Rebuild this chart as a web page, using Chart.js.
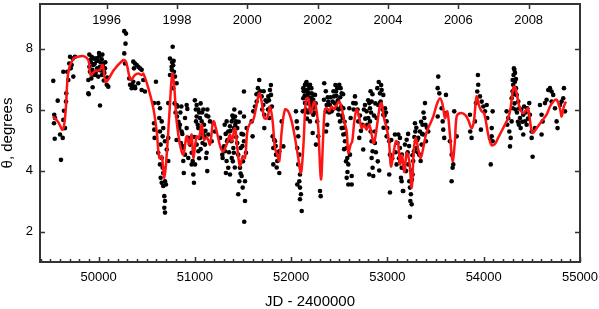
<!DOCTYPE html>
<html lang="en">
<head>
<meta charset="UTF-8">
<title>Position angle vs JD</title>
<script src="https://cdn.jsdelivr.net/npm/chart.js"></script>
<style>
  body { margin: 0; background: #fff; }
  canvas { display: block; }
</style>
</head>
<body>
<canvas id="chart" width="599" height="309"></canvas>
<script>
// axis settings
const xMin = 49392, xMax = 55000;
const yMin = 1, yMax = 9.46;
const xTickValues = [50000, 51000, 52000, 53000, 54000, 55000];
const yTickValues = [2, 4, 6, 8];
const yearJD = [50083.5, 50814.5, 51544.5, 52275.5, 53005.5, 53736.5, 54466.5];
const yearLabels = ['1996', '1998', '2000', '2002', '2004', '2006', '2008'];

// smoothed curve (red)
const fitJD = [49527,49579,49628,49657,49686,49738,49787,49842,49894,49918,
  49963,50015,50043,50077,50160,50257,50285,50334,50378,50413,
  50448,50465,50517,50569,50604,50631,50656,50683,50708,50735,
  50766,50787,50811,50846,50880,50915,50942,50967,50984,51019,
  51043,51071,51095,51129,51157,51192,51227,51268,51295,51330,
  51365,51383,51417,51441,51469,51497,51521,51545,51573,51607,
  51635,51669,51694,51721,51752,51780,51808,51832,51856,51877,
  51902,51936,51970,52006,52040,52074,52102,52126,52154,52178,
  52203,52240,52265,52282,52310,52334,52351,52375,52396,52421,
  52445,52473,52500,52525,52552,52577,52594,52618,52635,52656,
  52681,52708,52733,52756,52784,52811,52836,52860,52888,52923,
  52940,52964,52992,53016,53037,53061,53089,53113,53130,53151,
  53177,53200,53227,53252,53276,53296,53320,53345,53372,53400,
  53424,53476,53511,53546,53574,53598,53622,53649,53677,53701,
  53719,53753,53805,53839,53874,53898,53926,53954,53979,54003,
  54023,54047,54082,54117,54150,54202,54254,54279,54306,54324,
  54348,54376,54411,54445,54462,54487,54508,54550,54601,54653,
  54688,54722,54757,54792,54809,54833,54854];
const fitTheta = [5.77,5.6,5.34,5.9,7.24,7.67,7.73,7.75,7.62,7.13,
  7.26,7.3,7.46,6.91,7.3,7.62,7.57,6.97,7.13,7.18,
  7.13,7.18,6.7,6.04,5.28,4.41,4.47,3.76,4.52,5.83,
  7.18,6.7,5.61,4.85,4.52,5.12,4.85,5.18,4.41,5.12,
  5.07,5.5,5.01,5.07,4.85,5.61,5.28,4.74,4.63,4.85,
  5.18,4.96,5.39,4.74,4.14,4.47,4.41,5.28,5.55,5.66,
  6.04,6.53,6.26,5.72,5.72,6.1,5.61,4.74,4.52,4.31,
  5.28,6.0,5.94,5.61,5.07,4.41,3.92,4.74,6.32,6.37,
  5.88,6.26,5.94,5.39,3.71,5.18,6.0,6.04,5.94,6.1,
  6.0,6.15,6.26,6.04,5.61,5.28,4.58,4.85,4.96,5.61,
  6.0,5.72,5.39,5.5,5.34,5.5,5.18,4.9,5.39,6.15,
  6.21,5.72,5.39,4.96,4.14,4.52,4.96,4.85,4.2,4.5,
  3.95,4.58,4.31,3.44,4.74,5.07,4.69,4.41,4.74,5.18,
  5.39,5.77,6.15,6.37,6.15,5.72,5.94,5.18,4.31,4.96,
  5.77,5.88,5.83,5.66,5.39,5.61,6.43,6.1,5.94,5.88,
  5.61,5.18,4.83,4.87,5.07,5.39,5.72,6.04,6.7,6.75,
  6.43,6.04,5.88,6.0,6.04,5.5,5.23,5.39,5.61,5.83,
  6.1,6.26,6.32,6.04,5.77,6.1,6.26];

// individual measurements [JD-2400000, theta], grouped by season
const obs1995 = [[49530,6.94],[49576,6.29],[49540,5.83],[49548,5.72],[49537,5.55],[49545,5.04],
  [49600,5.18],[49628,5.07],[49610,4.35],[49634,5.66],[49652,5.39],[49641,5.96],[49662,6.26],
  [49665,6.53],[49634,7.24],[49675,7.24],[49696,7.51],[49704,7.73],[49732,7.67],[49721,7.46],
  [49738,7.08],[49755,7.73],[49686,6.97],[49711,7.35]];
const obs1996 = [[49904,7.8],[49929,7.73],[49953,7.67],[49981,7.59],[50008,7.75],[50033,7.65],
  [50049,7.51],[50067,7.35],[49946,7.46],[49985,7.35],[50015,7.4],[49911,7.24],[49894,6.97],
  [49939,6.73],[49898,6.5],[50015,6.13],[49963,7.13],[49997,7.08],[50035,7.13],[50052,7.24],
  [50085,6.81],[50101,6.75],[49925,7.02],[49920,7.55],[49960,7.5],[49990,7.62],[50020,7.55],
  [50000,7.3],[49970,7.2],[50045,7.4],[50060,7.2],[49935,7.3],[49975,7.68],[50025,7.28],
  [49915,7.62],[50070,7.55],[50090,7.05],[50055,6.95],[49945,7.15],[49905,7.4],[50040,7.8],
  [50005,7.85],[49894,6.53]];
const obs1997 = [[50267,8.57],[50285,8.49],[50280,8.16],[50267,7.84],[50275,7.51],[50327,6.81],
  [50344,6.7],[50361,6.91],[50319,7.02],[50378,6.75],[50361,7.57],[50378,7.51],[50396,7.46],
  [50413,7.4],[50430,7.35],[50448,7.3],[50368,7.35],[50345,6.81],[50380,6.7],[50413,6.86],
  [50448,6.64],[50482,6.59],[50465,6.97],[50596,6.91]];
const obs1998 = [[50576,6.21],[50620,6.21],[50638,6.04],[50576,5.55],[50579,5.34],[50582,5.07],
  [50631,5.72],[50656,5.61],[50672,5.39],[50638,5.28],[50666,5.12],[50690,4.96],[50645,4.85],
  [50620,4.58],[50656,4.41],[50638,4.2],[50666,4.09],[50672,3.92],[50645,3.76],[50656,3.6],
  [50672,3.49],[50690,3.65],[50700,3.54],[50683,3.16],[50690,3.0],[50683,2.78],[50690,2.62],
  [50724,4.31],[50708,4.69],[50724,5.07],[50724,6.21],[50742,7.67],[50759,7.4],[50770,8.06],
  [50783,7.24],[50794,7.08],[50811,6.86],[50776,6.7],[50742,7.13],[50811,6.15],[50815,5.77],
  [50838,5.39],[50863,5.28],[50873,4.74],[50880,4.31],[50885,3.92],[50878,4.79],[50898,4.52],
  [50932,4.41],[50765,7.55],[50775,7.45],[50760,7.3],[50780,7.6],[50790,6.2],[50800,5.9],
  [50820,6.1],[50830,5.6],[50850,5.9],[50860,6.1],[50845,5.5],[50870,5.2],[50855,4.9],
  [50810,5.0]];
const obs1999 = [[50915,6.15],[50922,6.02],[50898,5.72],[50915,5.39],[50932,5.07],[50950,4.85],
  [50967,4.58],[50978,4.31],[50984,3.87],[50991,3.6],[50967,4.2],[51002,4.2],[51019,6.15],
  [51036,6.0],[51019,5.77],[51053,5.72],[51012,5.61],[51036,5.39],[51071,5.61],[51088,6.0],
  [51071,5.28],[51053,5.07],[51019,4.85],[51036,4.63],[51088,5.18],[51105,4.85],[51123,4.58],
  [51129,3.98],[51116,4.41],[51140,5.77],[51157,5.61],[51140,5.18],[51175,4.96],[51192,5.55],
  [51209,5.28],[51000,6.3],[51010,6.0],[51030,5.5],[51045,5.9],[51060,6.2],[51075,5.9],
  [51095,5.5],[51110,5.3],[51080,4.9],[51100,5.1],[51120,5.8],[51130,6.0],[51060,4.7],
  [51045,4.4],[50995,5.1]];
const obs2000 = [[51295,4.74],[51289,4.41],[51261,5.07],[51285,4.52],[51313,4.63],[51330,4.31],
  [51347,4.09],[51323,3.92],[51365,3.87],[51383,4.41],[51330,5.61],[51347,5.28],[51365,5.45],
  [51383,5.61],[51400,5.72],[51417,5.77],[51427,5.61],[51407,5.39],[51380,4.96],[51400,4.74],
  [51335,4.96],[51303,4.79],[51405,4.58],[51441,5.39],[51510,6.59],[51510,5.77],[51503,5.18],
  [51476,4.74],[51451,4.52],[51469,4.09],[51486,3.82],[51462,3.65],[51497,3.44],[51521,3.65],
  [51451,3.22],[51521,3.0],[51513,2.32],[51510,4.96],[51531,4.58],[51538,5.39],
  [51310,5.5],[51320,5.2],[51340,5.0],[51355,4.6],[51370,5.3],[51390,5.8],[51410,6.0],
  [51420,5.5],[51430,5.1],[51395,4.3],[51415,4.1],[51440,4.9],[51455,5.6],[51470,5.9],
  [51485,5.2],[51495,4.8],[51500,4.3],[51475,3.9]];
const obs2001 = [[51600,5.12],[51590,5.61],[51607,5.94],[51625,6.1],[51642,6.26],[51669,6.97],
  [51659,6.53],[51694,6.43],[51711,6.15],[51721,5.83],[51721,5.39],[51746,6.26],[51763,6.43],
  [51780,6.64],[51791,6.48],[51780,6.04],[51773,5.72],[51808,5.12],[51815,4.74],[51832,4.96],
  [51843,4.52],[51856,4.31],[51815,4.2],[51877,4.63],[51902,5.61],[51877,3.92],[51919,4.79],
  [51640,6.5],[51655,6.7],[51680,6.6],[51700,6.0],[51715,6.6],[51735,6.3],[51760,6.0],
  [51770,6.3],[51790,6.8],[51800,6.1],[51825,5.0],[51840,4.8],[51850,4.1],[51860,4.6]];
const obs2002 = [[52050,5.94],[52058,5.61],[52064,5.39],[52074,5.12],[52064,4.74],[52085,4.52],
  [52074,4.2],[52092,3.87],[52085,3.65],[52064,3.54],[52092,3.44],[52102,3.22],[52092,3.06],
  [52110,2.67],[52126,6.7],[52144,6.81],[52154,6.86],[52168,6.81],[52144,6.59],[52161,6.43],
  [52178,6.53],[52188,6.7],[52144,6.21],[52120,5.94],[52196,6.26],[52213,6.37],[52230,6.48],
  [52224,6.04],[52126,6.37],[52196,6.81],[52213,6.53],[52230,6.32],[52248,6.48],[52206,6.15],
  [52230,5.83],[52196,5.61],[52224,5.23],[52258,4.85],[52271,5.61],[52282,5.12],[52300,3.33],
  [52307,3.16],[52130,6.6],[52140,6.45],[52150,6.65],[52160,6.9],[52170,6.6],[52180,6.2],
  [52185,6.4],[52200,6.0],[52210,6.7],[52220,6.2],[52235,6.1],[52245,5.9],[52255,6.2],
  [52175,5.9],[52150,6.0],[52165,5.7]];
const obs2003 = [[52344,6.86],[52341,6.32],[52369,6.15],[52362,5.94],[52375,5.5],[52362,5.28],
  [52386,6.26],[52403,6.15],[52421,5.94],[52431,6.26],[52445,6.43],[52466,6.59],[52479,6.7],
  [52500,6.81],[52514,6.7],[52525,6.53],[52473,6.04],[52490,5.83],[52507,5.61],[52525,5.39],
  [52542,6.04],[52535,5.72],[52542,5.18],[52559,4.96],[52577,4.74],[52583,4.41],[52594,4.2],
  [52577,3.76],[52594,3.54],[52629,3.82],[52629,3.54],[52611,4.52],[52618,5.72],[52604,6.04],
  [52645,6.21],[52663,6.43],[52697,5.61],[52708,5.07],[52749,4.69],
  [52360,6.6],[52380,6.4],[52395,5.9],[52410,6.4],[52430,6.0],[52440,6.6],[52455,6.2],
  [52460,6.8],[52470,6.45],[52485,6.3],[52495,6.0],[52510,6.4],[52520,6.1],[52530,5.8],
  [52545,5.4],[52555,5.6],[52565,5.2],[52540,6.5],[52550,4.7],[52570,4.3],[52585,3.95],
  [52650,6.0],[52670,6.2],[52690,6.0],[52715,5.8],[52725,5.3],[52740,5.5]];
const obs2004 = [[52756,6.0],[52767,6.15],[52784,5.94],[52801,5.72],[52811,6.21],[52819,6.04],
  [52836,6.26],[52819,5.61],[52826,5.28],[52836,4.96],[52846,4.63],[52836,4.41],[52846,4.09],
  [52811,3.87],[52853,3.82],[52871,5.28],[52888,5.72],[52905,6.15],[52923,6.53],[52940,6.64],
  [52957,6.48],[52930,6.26],[52975,6.04],[52957,5.83],[52992,5.61],[52998,5.39],[52992,5.12],
  [53019,4.96],[53026,4.52],[53019,3.87],[53026,3.28],
  [52770,5.7],[52790,5.5],[52800,6.3],[52825,6.6],[52830,5.9],[52845,6.5],[52860,5.8],
  [52875,6.2],[52895,6.7],[52910,6.9],[52920,6.2],[52935,6.8],[52950,6.0],[52960,5.4],
  [52970,5.8],[52985,5.9],[52870,4.9],[52880,4.6],[52900,4.3],[52915,4.0]];
const obs2005 = [[53078,5.18],[53113,5.18],[53130,4.74],[53148,4.09],[53148,3.65],[53165,3.33],
  [53130,5.07],[53150,4.52],[53168,4.09],[53141,3.76],[53160,3.33],[53182,4.85],[53200,5.01],
  [53206,4.52],[53217,4.2],[53193,3.98],[53227,3.65],[53234,3.44],[53244,3.22],[53238,3.0],
  [53252,2.89],[53234,2.48],[53262,3.87],[53268,4.31],[53286,5.55],[53290,5.28],[53296,4.96],
  [53276,4.63],[53303,4.74],[53320,5.07],[53338,5.28],[53330,4.52],[53345,4.31],[53355,4.85],
  [53372,5.18],[53365,5.5],[53390,6.21],[53383,5.72],[53400,4.96],[53424,5.28],[53528,7.08],
  [53522,6.7],[53539,6.53],[53522,5.77],[53563,6.04],[53574,5.61],[53580,5.34],[53590,5.07],
  [53608,6.48],[53608,5.88],
  [53040,5.0],[53050,4.4],[53085,4.6],[53095,4.2],[53105,4.9],[53120,4.4],[53135,4.3],
  [53175,4.2],[53185,4.0],[53210,4.6],[53215,5.2],[53225,4.8],[53245,4.0],[53255,3.7],
  [53260,4.5],[53280,5.1],[53300,5.4],[53310,5.0],[53315,4.6],[53350,5.6],[53360,5.2],
  [53375,5.9],[53395,5.5],[53410,5.4]];
const obs2006 = [[53649,4.96],[53667,4.52],[53677,4.09],[53667,3.65],[53684,4.2],[53694,5.94],
  [53719,5.12],[53857,5.83],[53860,5.28],[53874,5.07],[53909,5.61],[53919,6.21],[53933,6.59],
  [53943,6.81],[53940,7.13],[53961,6.43],[53979,6.26],[53996,6.1],[54013,5.94],[54031,6.15],
  [53971,5.34],[54037,5.72],[54065,5.07],[54093,4.96],[54073,4.2],[54083,5.39],[54083,5.12],
  [54093,5.94]];
const obs2007 = [[54238,5.94],[54255,5.72],[54245,5.5],[54266,5.28],[54273,4.79],[54280,5.07],
  [54290,5.61],[54301,6.04],[54290,6.37],[54306,6.81],[54310,7.13],[54314,7.35],[54301,6.97],
  [54324,6.91],[54335,6.7],[54342,6.48],[54359,6.26],[54369,6.04],[54377,5.72],[54384,5.39],
  [54411,5.83],[54411,5.18],[54429,5.61],[54446,5.5],[54452,6.04],[54473,6.21],[54480,5.83],
  [54498,5.28],[54498,5.07],[54508,4.45],[54532,5.39],[54300,6.6],[54315,6.5],[54320,6.2],
  [54330,6.0],[54345,5.9],[54355,5.6],[54365,5.5],[54390,6.0],[54400,5.6],[54420,6.1],
  [54435,5.9],[54460,5.7],[54325,7.2],[54335,7.0],[54318,7.3]];
const obs2008 = [[54584,6.15],[54601,5.83],[54612,5.61],[54601,5.18],[54636,6.21],[54653,6.32],
  [54670,6.64],[54688,6.7],[54705,6.59],[54705,6.26],[54722,6.48],[54740,6.04],[54757,5.61],
  [54767,5.39],[54792,6.15],[54809,6.26],[54826,6.37],[54833,6.7],[54844,5.94]];

const seasons = [obs1995, obs1996, obs1997, obs1998, obs1999, obs2000, obs2001, obs2002,
  obs2003, obs2004, obs2005, obs2006, obs2007, obs2008];
const dotPoints = [];
seasons.forEach(s => s.forEach(p => dotPoints.push({ x: p[0], y: p[1] })));
const fitPoints = fitJD.map((jd, i) => ({ x: jd, y: fitTheta[i] }));

const fontFamily = '"Liberation Sans", Arial, Helvetica, sans-serif';
const axisColor = '#333';

// minor ticks on the JD axis every 100 days
const minorTicks = [];
for (let v = 49400; v <= xMax; v += 100) minorTicks.push(v);

// frame, inward ticks and the calendar-year axis on top
const framePlugin = {
  id: 'frame',
  afterDatasetsDraw(chart) {
    const { ctx, chartArea: a, scales: { x, y } } = chart;
    ctx.save();
    ctx.strokeStyle = axisColor;
    ctx.lineWidth = 1.5;
    ctx.beginPath();
    minorTicks.forEach(v => {
      const px = Math.round(x.getPixelForValue(v)) + 0.5;
      const len = v % 1000 === 0 ? 5 : 3;
      ctx.moveTo(px, a.bottom);
      ctx.lineTo(px, a.bottom - len);
    });
    yTickValues.forEach(v => {
      const py = Math.round(y.getPixelForValue(v)) + 0.5;
      ctx.moveTo(a.left, py); ctx.lineTo(a.left + 5, py);
      ctx.moveTo(a.right, py); ctx.lineTo(a.right - 5, py);
    });
    yearJD.forEach(v => {
      const px = Math.round(x.getPixelForValue(v)) + 0.5;
      ctx.moveTo(px, a.top); ctx.lineTo(px, a.top + 5);
    });
    ctx.stroke();
    ctx.lineWidth = 2;
    ctx.strokeRect(a.left, a.top, a.right - a.left, a.bottom - a.top);

    ctx.fillStyle = '#000';
    ctx.font = '13px ' + fontFamily;
    ctx.textAlign = 'center';
    ctx.textBaseline = 'middle';
    yearJD.forEach((v, i) => {
      ctx.fillText(yearLabels[i], x.getPixelForValue(v), a.top + 16);
    });
    ctx.restore();
  }
};

new Chart(document.getElementById('chart'), {
  type: 'scatter',
  data: {
    datasets: [
      {
        label: 'fit',
        data: fitPoints,
        showLine: true,
        borderColor: '#ff1414',
        borderWidth: 2.5,
        pointRadius: 0,
        tension: 0.35
      },
      {
        label: 'theta',
        data: dotPoints,
        backgroundColor: '#000',
        borderWidth: 0,
        pointRadius: 2.3
      }
    ]
  },
  options: {
    responsive: false,
    animation: false,
    layout: { padding: { top: 1, right: 19, left: 0, bottom: 0 } },
    plugins: { legend: { display: false }, tooltip: { enabled: false } },
    scales: {
      x: {
        type: 'linear',
        min: xMin,
        max: xMax,
        grid: { display: false, drawTicks: false },
        border: { display: false },
        afterBuildTicks: s => { s.ticks = xTickValues.map(v => ({ value: v })); },
        afterFit: s => { s.height = 47; s.paddingLeft = 0; s.paddingRight = 0; },
        ticks: {
          callback: v => String(v),
          color: '#000',
          font: { family: fontFamily, size: 13 },
          padding: 8,
          maxRotation: 0,
          autoSkip: false
        },
        title: {
          display: true,
          text: 'JD - 2400000',
          color: '#000',
          font: { family: fontFamily, size: 15, lineHeight: 1 },
          padding: 0
        }
      },
      y: {
        min: yMin,
        max: yMax,
        grid: { display: false, drawTicks: false },
        border: { display: false },
        afterBuildTicks: s => { s.ticks = yTickValues.map(v => ({ value: v })); },
        afterFit: s => { s.width = 40; s.paddingTop = 0; s.paddingBottom = 0; },
        ticks: {
          color: '#000',
          font: { family: fontFamily, size: 13 },
          padding: 7
        },
        title: {
          display: true,
          text: 'θ, degrees',
          color: '#000',
          font: { family: fontFamily, size: 15, lineHeight: 1 },
          padding: 0
        }
      }
    }
  },
  plugins: [framePlugin]
});
</script>
</body>
</html>
